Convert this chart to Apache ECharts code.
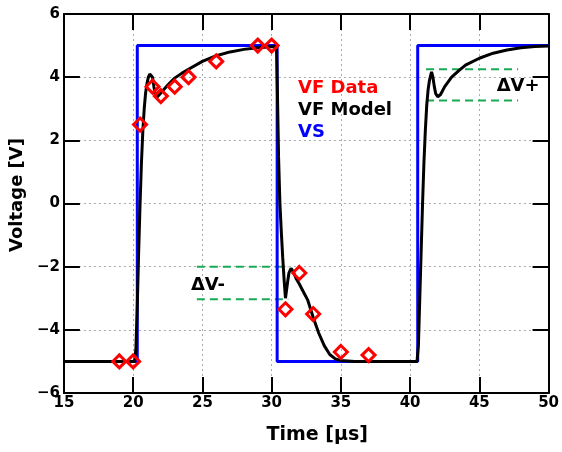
<!DOCTYPE html>
<html>
<head>
<meta charset="utf-8">
<script src="https://cdn.jsdelivr.net/npm/echarts@6/dist/echarts.min.js"></script>
<style>
  html, body { margin: 0; padding: 0; background: #fff; }
  #chart { width: 562px; height: 452px; }
</style>
</head>
<body>
<div id="chart"></div>
<script>
// measured points (red diamonds)
var dataX = [19, 20, 20.5, 21.4, 22, 23, 24, 26, 29, 30, 31, 32, 33, 35, 37];
var dataY = [-5, -5, 2.5, 3.7, 3.4, 3.7, 4.0, 4.5, 5, 5, -3.35, -2.2, -3.5, -4.7, -4.8];

// model curve (black)
var modelX = [15, 20.1, 20.2, 20.3, 20.4, 20.5, 20.6, 20.7, 20.8, 20.9, 21.0, 21.1, 21.2, 21.3, 21.4, 21.5, 21.6, 21.72, 21.85, 22,
  22.5, 23, 23.5, 24, 25, 26, 27, 28, 29, 30, 30.35, 30.42, 30.5, 30.6, 30.7, 30.8, 30.9, 31.0, 31.05, 31.15, 31.25, 31.4,
  31.55, 31.8, 32, 32.3, 32.6, 33, 33.4, 33.8, 34.2, 34.6, 35, 36, 40.5, 40.6, 40.7, 40.8, 40.9, 41.0, 41.1, 41.2, 41.3, 41.4,
  41.55, 41.65, 41.75, 41.85, 42, 42.2, 42.5, 43, 43.5, 44, 45, 46, 47, 48, 49, 50];
var modelY = [-5, -5, -4.6, -3.2, -1.5, 0, 1.3, 2.3, 3.0, 3.5, 3.8, 4.0, 4.1, 4.14, 4.0, 3.7, 3.45, 3.36, 3.42, 3.5,
  3.75, 3.97, 4.12, 4.25, 4.5, 4.68, 4.8, 4.88, 4.93, 4.96, 4.97, 3.5, 1.5, 0, -0.9, -1.7, -2.4, -3.0, -2.95, -2.5, -2.2, -2.05,
  -2.15, -2.4, -2.55, -2.8, -3.05, -3.6, -4.1, -4.5, -4.78, -4.92, -4.97, -5, -5, -4.5, -3, -1.5, 0, 1.3, 2.3, 3.1, 3.6, 3.9,
  4.17, 4.0, 3.7, 3.48, 3.38, 3.45, 3.7, 4.0, 4.2, 4.38, 4.6, 4.76, 4.86, 4.93, 4.97, 4.99];

// source voltage (blue)
var vsX = [15, 20.3, 20.3, 30.4, 30.4, 40.55, 40.55, 50];
var vsY = [-5, -5, 5, 5, -5, -5, 5, 5];

// delta-V guide lines (green)
var dvMinusX = [24.6, 31.2];
var dvMinusTop = [-2, -2];
var dvMinusBot = [-3.03, -3.03];
var dvPlusX = [41.15, 47.8];
var dvPlusTop = [4.25, 4.25];
var dvPlusBot = [3.26, 3.26];
var dvLabels = [[25.4, -2.6, 'ΔV-'], [47.8, 3.72, 'ΔV+']];

function pairs(xs, ys) {
  return xs.map(function (x, i) { return [x, ys[i]]; });
}

var FONT = 'DejaVu Sans';
var chart = echarts.init(document.getElementById('chart'));

var tickStyle = { show: true, inside: true, length: 16, lineStyle: { color: '#000', width: 2 } };
var lineAx = { show: true, onZero: false, lineStyle: { color: '#000', width: 2 } };
var dotted = { show: true, lineStyle: { color: '#aaa', type: [2, 3], width: 1 } };

function guide(xs, ys) {
  return {
    type: 'line', data: pairs(xs, ys), showSymbol: false, silent: true, z: 1,
    lineStyle: { color: '#1aaa55', width: 2, type: [8, 5] }
  };
}

chart.setOption({
  animation: false,
  grid: { left: 63, right: 8, top: 14, bottom: 59 },
  legend: {
    orient: 'vertical', left: 288, top: 74, icon: 'none', itemWidth: 0, itemHeight: 10, itemGap: 3,
    selectedMode: false,
    textStyle: { fontFamily: FONT, fontWeight: 'bold', fontSize: 18, lineHeight: 19 },
    data: [
      { name: 'VF Data', textStyle: { color: '#ff0000' } },
      { name: 'VF Model', textStyle: { color: '#000000' } },
      { name: 'VS', textStyle: { color: '#0000ff' } }
    ]
  },
  xAxis: [
    {
      type: 'value', min: 15, max: 50, interval: 5,
      name: 'Time [μs]', nameLocation: 'middle', nameGap: 33,
      nameTextStyle: { fontFamily: FONT, fontWeight: 'bold', fontSize: 19, color: '#000', padding: [0, 0, 0, 22] },
      axisLine: lineAx, axisTick: tickStyle, splitLine: dotted,
      axisLabel: { fontFamily: FONT, fontWeight: 'bold', fontSize: 15, color: '#000', margin: 3 }
    },
    {
      type: 'value', min: 15, max: 50, interval: 5, position: 'top',
      axisLine: lineAx, axisTick: tickStyle, splitLine: { show: false }, axisLabel: { show: false }
    }
  ],
  yAxis: [
    {
      type: 'value', min: -6, max: 6, interval: 2,
      name: 'Voltage [V]', nameLocation: 'middle', nameGap: 34,
      nameTextStyle: { fontFamily: FONT, fontWeight: 'bold', fontSize: 18, color: '#000', padding: [0, 0, 0, 17] },
      axisLine: lineAx, axisTick: tickStyle, splitLine: dotted,
      axisLabel: {
        fontFamily: FONT, fontWeight: 'bold', fontSize: 15, color: '#000', margin: 4,
        formatter: function (v) { return String(v).replace('-', '\u2212'); }
      }
    },
    {
      type: 'value', min: -6, max: 6, interval: 2, position: 'right',
      axisLine: lineAx, axisTick: tickStyle, splitLine: { show: false }, axisLabel: { show: false }
    }
  ],
  series: [
    guide(dvMinusX, dvMinusTop),
    guide(dvMinusX, dvMinusBot),
    guide(dvPlusX, dvPlusTop),
    guide(dvPlusX, dvPlusBot),
    {
      name: 'VS', type: 'line', data: pairs(vsX, vsY), showSymbol: false, z: 2,
      itemStyle: { color: '#0000ff' }, lineStyle: { color: '#0000ff', width: 3 }
    },
    {
      name: 'VF Model', type: 'line', data: pairs(modelX, modelY), showSymbol: false, z: 3,
      itemStyle: { color: '#000' }, lineStyle: { color: '#000', width: 3 }
    },
    {
      name: 'VF Data', type: 'scatter', data: pairs(dataX, dataY), symbol: 'diamond', symbolSize: 13, z: 4,
      itemStyle: { color: 'rgba(0,0,0,0)', borderColor: '#ff0000', borderWidth: 3, opacity: 1 }
    },
    {
      type: 'scatter', data: dvLabels, symbolSize: 0, silent: true, z: 5,
      itemStyle: { opacity: 1 },
      label: {
        show: true, position: 'inside', formatter: function (p) { return p.data[2]; },
        fontFamily: FONT, fontWeight: 'bold', fontSize: 18, color: '#000', opacity: 1, textBorderWidth: 0
      }
    }
  ]
});
</script>
</body>
</html>
